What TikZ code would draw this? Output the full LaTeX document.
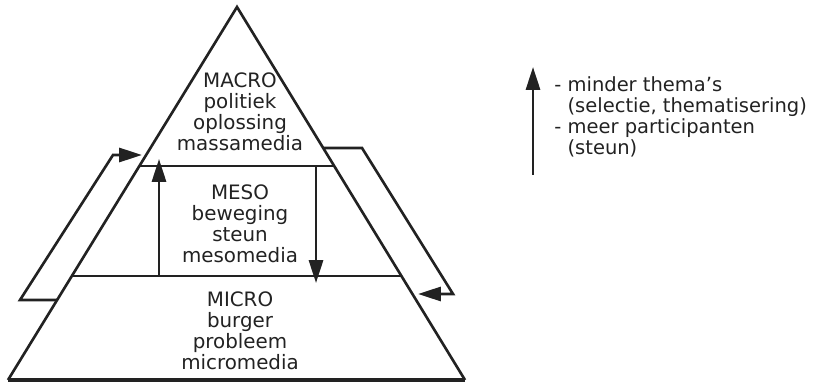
\documentclass[tikz,border=0pt]{standalone}
\usepackage{fontspec}
\setmainfont{DejaVu Sans}
\usetikzlibrary{arrows.meta,calc}
\definecolor{ink}{HTML}{222222}

\begin{document}
\begin{tikzpicture}[
  x=0.02cm, y=-0.02cm,
  frame/.style={line width=1.5pt, draw=ink},
  edge/.style={-{Triangle[length=13pt, width=8pt]}, line width=1.5pt, draw=ink},
  level/.style={font=\fontsize{11.3}{12}\selectfont, align=center, inner sep=0pt, text=ink},
  note/.style={font=\fontsize{11.1}{12}\selectfont, align=left, inner sep=0pt, anchor=west, text=ink}
]
\useasboundingbox (0,0) rectangle (813,384);
% pyramid
\coordinate (apex) at (237,7);
\coordinate (bl) at (8,380);
\coordinate (br) at (465,380);
\coordinate (ml) at ($(apex)!0.4263!(bl)$);
\coordinate (mr) at ($(apex)!0.4263!(br)$);
\coordinate (ul) at ($(apex)!0.7212!(bl)$);
\coordinate (ur) at ($(apex)!0.7212!(br)$);
\draw[frame] (bl) -- (apex) -- (br);
\draw[frame, line width=2.2pt] (bl) -- (br);
\draw[frame] (ml) -- (mr);
\draw[frame] (ul) -- (ur);
\node[level] (macro) at (240,112) {MACRO\\politiek\\oplossing\\massamedia};
\node[level] (meso) at (240,224) {MESO\\beweging\\steun\\mesomedia};
\node[level] (micro) at (240,331) {MICRO\\burger\\probleem\\micromedia};
% feedback loops
\coordinate (lb) at ($(apex)!0.7855!(bl)$);
\coordinate (lc1) at (20,300);
\coordinate (lc2) at (113,155);
\coordinate (lt) at (142,155);
\draw[edge] (lb) -- (lc1) -- (lc2) -- (lt);
\coordinate (rb) at ($(apex)!0.378!(br)$);
\coordinate (rc1) at (362,148);
\coordinate (rc2) at (453,294);
\coordinate (rt) at (418,294);
\draw[edge] (rb) -- (rc1) -- (rc2) -- (rt);
% inner arrows
\coordinate (up0) at (159,276);
\coordinate (up1) at (159,166);
\coordinate (dn0) at (316,166);
\coordinate (dn1) at (316,276);
\draw[edge, shorten >=-4pt] (up0) -- (up1);
\draw[edge, shorten >=-4pt] (dn0) -- (dn1);
% legend
\coordinate (k0) at (533,175);
\coordinate (k1) at (533,67);
\draw[edge] (k0) -- (k1);
\node[note] (key) at (554,117) {- minder thema’s\\\phantom{- }(selectie, thematisering)\\- meer participanten\\\phantom{- }(steun)};
\end{tikzpicture}
\end{document}
